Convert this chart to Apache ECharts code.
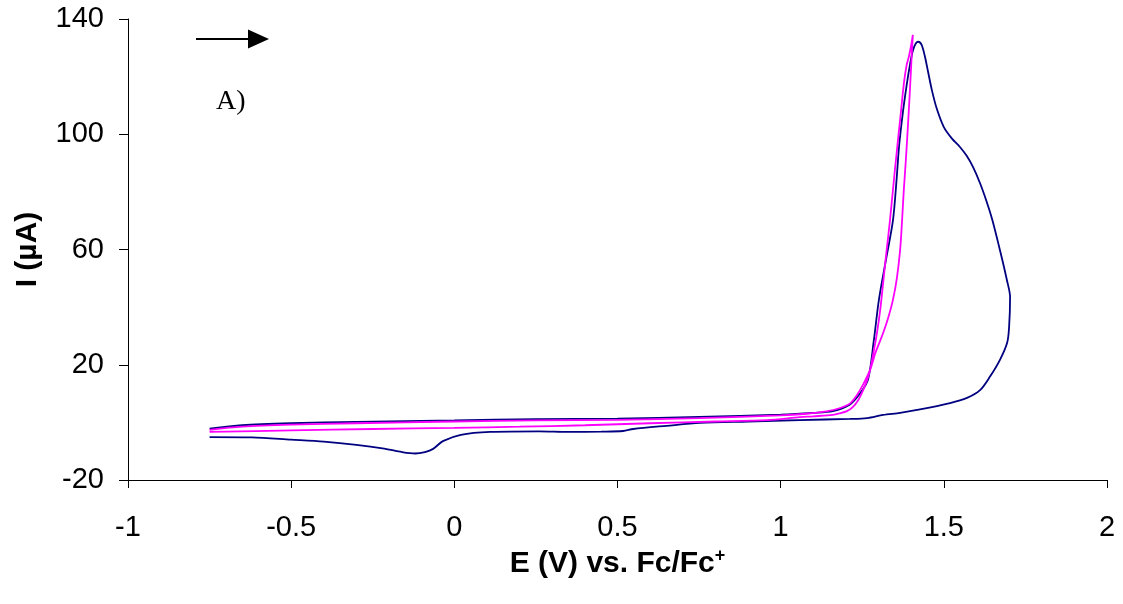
<!DOCTYPE html>
<html>
<head>
<meta charset="utf-8">
<script src="https://cdn.jsdelivr.net/npm/echarts@6/dist/echarts.min.js"></script>
<style>
html,body{margin:0;padding:0;background:#fff;}
#chart{width:1123px;height:604px;}
</style>
</head>
<body>
<div id="chart"></div>
<script>
// ---- Data (E in V vs Fc/Fc+, I in µA) ----
const xTicks = [-1, -0.5, 0, 0.5, 1, 1.5, 2];
const yTicks = [-20, 20, 60, 100, 140];

// Navy scan: forward (-0.75 -> 1.70 V) then reverse (1.70 -> -0.75 V)
const navyE = [-0.75,-0.65,-0.5,-0.3,0,0.25,0.5,0.75,1.0,1.1,1.16,1.21,1.243,1.268,1.285,1.301,1.322,1.344,1.355,1.363,1.375,1.386,1.396,1.405,1.414,1.422,1.432,1.442,1.452,1.463,1.478,1.50,1.525,1.55,1.57,1.59,1.611,1.63,1.648,1.665,1.68,1.693,1.703,
  1.700,1.694,1.672,1.641,1.611,1.571,1.519,1.418,1.366,1.314,1.265,1.212,1.059,0.9,0.753,0.65,0.548,0.517,0.45,0.35,0.26,0.11,0.02,-0.035,-0.065,-0.09,-0.12,-0.16,-0.22,-0.3,-0.4,-0.5,-0.62,-0.75];
const navyI = [-2.2,-1.0,-0.3,0.2,0.7,1.1,1.3,1.9,2.7,3.3,3.9,6.0,10.0,15.0,28.0,42.5,56.0,70.0,84.0,96.0,108.0,117.0,124.0,129.0,131.5,132.1,131.0,127.0,121.5,115.5,109.0,102.5,98.5,95.5,92.5,88.5,83.0,77.0,70.5,63.0,56.0,49.5,43.5,
  33.1,27.6,21.7,15.8,11.2,8.5,6.7,4.3,3.3,2.6,1.5,1.2,0.8,0.3,-0.2,-1.2,-2.3,-3.0,-3.2,-3.3,-3.1,-3.3,-4.3,-6.5,-9.2,-10.3,-10.8,-10.3,-9.0,-7.8,-6.7,-6.0,-5.2,-5.1];

// Magenta scan: forward (-0.75 -> 1.405 V) then reverse (1.405 -> -0.75 V)
const magE = [-0.75,-0.65,-0.5,-0.3,0,0.25,0.5,0.75,1.0,1.08,1.14,1.18,1.212,1.234,1.252,1.274,1.29,1.314,1.33,1.344,1.356,1.366,1.372,1.377,1.383,1.389,1.395,1.400,1.405,
  1.400,1.393,1.386,1.378,1.366,1.350,1.335,1.324,1.314,1.305,1.295,1.284,1.274,1.264,1.252,1.238,1.22,1.203,1.18,1.160,1.1,1.059,0.958,0.8,0.6,0.4,0.2,0,-0.25,-0.5,-0.75];
const magI = [-2.6,-1.5,-0.8,-0.3,0.3,0.7,0.9,1.5,2.4,3.0,3.8,4.9,6.5,9.5,13.0,18.2,24.0,31.0,36.5,42.5,50.0,59.8,70.0,80.0,90.0,101.0,113.0,124.0,134.5,
  131.0,127.0,124.0,118.0,105.0,87.6,70.2,59.0,48.4,39.0,31.0,24.0,18.2,14.4,11.0,7.8,5.2,3.9,3.1,2.6,2.1,1.8,0.8,0.3,-0.3,-1.0,-1.5,-1.9,-2.3,-2.8,-3.3];

const xName = 'E (V) vs. Fc/Fc';
const xNameSup = '+';
const yName = 'I (µA)';
const panelLabel = 'A)';

function pairs(xs, ys){ return xs.map((x,i)=>[x, ys[i]]); }

const chart = echarts.init(document.getElementById('chart'), null, {renderer:'canvas'});
const FONT = 'Liberation Sans, Arial, sans-serif';
const axisFont = {fontFamily:FONT, fontSize:29, color:'#000'};

chart.setOption({
  animation:false,
  backgroundColor:'#fff',
  grid:{left:128, top:19, right:16, bottom:124, containLabel:false},
  xAxis:{
    type:'value', min:-1, max:2, interval:0.5,
    axisLine:{onZero:false, lineStyle:{color:'#000', width:1}},
    axisTick:{show:true, inside:false, length:8, lineStyle:{color:'#000'}},
    axisLabel:Object.assign({margin:33, customValues:xTicks}, axisFont),
    splitLine:{show:false},
    name: xName + '{sup|' + xNameSup + '}',
    nameLocation:'middle', nameGap:54,
    nameTextStyle:{
      fontFamily:FONT, fontSize:30, fontWeight:'bold', color:'#000',
      rich:{sup:{fontFamily:FONT, fontSize:18, fontWeight:'bold', color:'#000', verticalAlign:'top', lineHeight:34}}
    }
  },
  yAxis:{
    type:'value', min:-20, max:140, interval:40,
    axisLine:{show:true, onZero:false, lineStyle:{color:'#000', width:1}},
    axisTick:{show:true, inside:false, length:9, lineStyle:{color:'#000'}},
    axisLabel:Object.assign({margin:24, customValues: yTicks}, axisFont),
    splitLine:{show:false},
    name: yName, nameLocation:'middle', nameGap:85, nameRotate:90,
    nameTextStyle:{fontFamily:FONT, fontSize:30, fontWeight:'bold', color:'#000'}
  },
  series:[
    {type:'line', name:'navy', data:pairs(navyE, navyI), symbol:'none', smooth:0.3,
     lineStyle:{color:'#000080', width:1.8}, z:2},
    {type:'line', name:'magenta', data:pairs(magE, magI), symbol:'none', smooth:0.3,
     lineStyle:{color:'#FF00FF', width:1.8}, z:3}
  ],
  graphic:[
    {type:'line', shape:{x1:196, y1:39, x2:252, y2:39}, style:{stroke:'#000', lineWidth:2}},
    {type:'polygon', shape:{points:[[248,29.5],[269,39],[248,48.5]]}, style:{fill:'#000'}},
    {type:'text', left:216, top:88, style:{text:panelLabel, font:'28px "Liberation Serif", "Times New Roman", serif', fill:'#000'}}
  ]
});
</script>
</body>
</html>
